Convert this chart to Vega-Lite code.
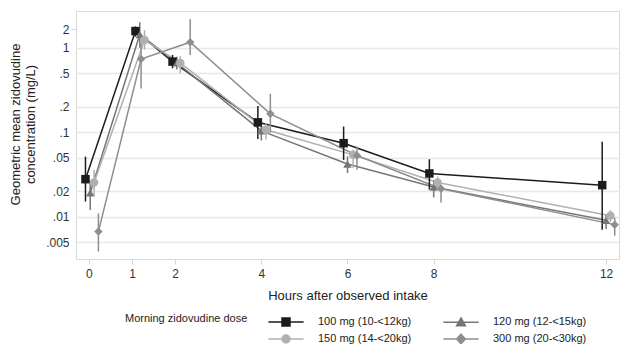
{
  "$schema": "https://vega.github.io/schema/vega-lite/v6.json",
  "width": 543,
  "height": 248,
  "autosize": {"type": "none"},
  "padding": {"left": 76, "top": 11, "right": 3, "bottom": 85},
  "background": "white",
  "config": {
    "font": "Liberation Sans",
    "view": {"stroke": "#d9d9d9", "strokeWidth": 1}
  },
  "data": {
    "values": [
      {"dose": "100 mg (10-<12kg)", "h": -0.08, "gm": 0.0279, "lo": 0.0152, "hi": 0.0516},
      {"dose": "100 mg (10-<12kg)", "h": 1.08, "gm": 1.57, "lo": 1.35, "hi": 1.78},
      {"dose": "100 mg (10-<12kg)", "h": 1.94, "gm": 0.684, "lo": 0.57, "hi": 0.82},
      {"dose": "100 mg (10-<12kg)", "h": 3.92, "gm": 0.131, "lo": 0.083, "hi": 0.205},
      {"dose": "100 mg (10-<12kg)", "h": 5.91, "gm": 0.0743, "lo": 0.0471, "hi": 0.117},
      {"dose": "100 mg (10-<12kg)", "h": 7.9, "gm": 0.0326, "lo": 0.021, "hi": 0.048},
      {"dose": "100 mg (10-<12kg)", "h": 11.91, "gm": 0.0237, "lo": 0.00705, "hi": 0.0775},
      {"dose": "120 mg (12-<15kg)", "h": 0.03, "gm": 0.0192, "lo": 0.0121, "hi": 0.027},
      {"dose": "120 mg (12-<15kg)", "h": 1.18, "gm": 1.43, "lo": 1.0, "hi": 2.0},
      {"dose": "120 mg (12-<15kg)", "h": 2.04, "gm": 0.66, "lo": 0.55, "hi": 0.78},
      {"dose": "120 mg (12-<15kg)", "h": 4.0, "gm": 0.104, "lo": 0.08, "hi": 0.12},
      {"dose": "120 mg (12-<15kg)", "h": 6.0, "gm": 0.0421, "lo": 0.033, "hi": 0.052},
      {"dose": "120 mg (12-<15kg)", "h": 8.0, "gm": 0.0225, "lo": 0.017, "hi": 0.027},
      {"dose": "120 mg (12-<15kg)", "h": 12.0, "gm": 0.0091, "lo": 0.0072, "hi": 0.0107},
      {"dose": "150 mg (14-<20kg)", "h": 0.12, "gm": 0.0255, "lo": 0.0175, "hi": 0.036},
      {"dose": "150 mg (14-<20kg)", "h": 1.29, "gm": 1.23, "lo": 0.95, "hi": 1.6},
      {"dose": "150 mg (14-<20kg)", "h": 2.12, "gm": 0.66, "lo": 0.5, "hi": 0.8},
      {"dose": "150 mg (14-<20kg)", "h": 4.11, "gm": 0.107, "lo": 0.082, "hi": 0.128},
      {"dose": "150 mg (14-<20kg)", "h": 6.13, "gm": 0.0541, "lo": 0.038, "hi": 0.062},
      {"dose": "150 mg (14-<20kg)", "h": 8.09, "gm": 0.0255, "lo": 0.021, "hi": 0.03},
      {"dose": "150 mg (14-<20kg)", "h": 12.1, "gm": 0.0103, "lo": 0.0087, "hi": 0.012},
      {"dose": "300 mg (20-<30kg)", "h": 0.22, "gm": 0.0067, "lo": 0.0039, "hi": 0.011},
      {"dose": "300 mg (20-<30kg)", "h": 1.21, "gm": 0.735, "lo": 0.33, "hi": 1.15},
      {"dose": "300 mg (20-<30kg)", "h": 2.35, "gm": 1.16, "lo": 0.82, "hi": 2.16},
      {"dose": "300 mg (20-<30kg)", "h": 4.21, "gm": 0.165, "lo": 0.099, "hi": 0.285},
      {"dose": "300 mg (20-<30kg)", "h": 6.22, "gm": 0.0532, "lo": 0.036, "hi": 0.068},
      {"dose": "300 mg (20-<30kg)", "h": 8.17, "gm": 0.0215, "lo": 0.0148, "hi": 0.024},
      {"dose": "300 mg (20-<30kg)", "h": 12.2, "gm": 0.0081, "lo": 0.006, "hi": 0.0098}
    ]
  },
  "encoding": {
    "x": {
      "field": "h",
      "type": "quantitative",
      "scale": {"domain": [-0.3, 12.3], "nice": false, "zero": false},
      "axis": {
        "values": [0, 1, 2, 4, 6, 8, 12],
        "grid": false,
        "domain": false,
        "tickSize": 5,
        "tickColor": "#d6d6d6",
        "labelFontSize": 12,
        "labelColor": "#333333",
        "labelPadding": 4,
        "title": "Hours after observed intake",
        "titleFontSize": 13,
        "titleFontWeight": "normal",
        "titleColor": "#222222",
        "titlePadding": 10
      }
    },
    "color": {
      "field": "dose",
      "type": "nominal",
      "scale": {
        "domain": ["100 mg (10-<12kg)", "120 mg (12-<15kg)", "150 mg (14-<20kg)", "300 mg (20-<30kg)"],
        "range": ["#1c1c1c", "#767676", "#b0b0b0", "#8e8e8e"]
      },
      "legend": {
        "title": "Morning zidovudine dose",
        "orient": "none",
        "legendX": 49,
        "legendY": 302,
        "columns": 2,
        "direction": "horizontal",
        "titleOrient": "left",
        "titleAnchor": "start",
        "titleFontSize": 11,
        "titleFontWeight": "normal",
        "titleColor": "#222222",
        "titlePadding": 29,
        "labelFontSize": 11,
        "labelColor": "#222222",
        "labelOffset": 23,
        "symbolSize": 256,
        "rowPadding": 1,
        "columnPadding": 28,
        "encode": {
          "symbols": {
            "update": {
              "shape": {"signal": "datum.value === '100 mg (10-<12kg)' ? 'M-2.2,0H2.2M-0.5,-0.5H0.5V0.5H-0.5Z' : datum.value === '120 mg (12-<15kg)' ? 'M-2.2,0H2.2M0,-0.55L0.55,0.42H-0.55Z' : datum.value === '150 mg (14-<20kg)' ? 'M-2.2,0H2.2M-0.5,0A0.5,0.5,0,1,0,0.5,0A0.5,0.5,0,1,0,-0.5,0Z' : 'M-2.2,0H2.2M0,-0.6L0.55,0L0,0.6L-0.55,0Z'"},
              "fill": {"scale": "color", "field": "value"},
              "stroke": {"scale": "color", "field": "value"},
              "strokeWidth": {"value": 1.5},
              "opacity": {"value": 1},
              "fillOpacity": {"value": 1},
              "strokeOpacity": {"value": 1}
            }
          }
        }
      }
    }
  },
  "layer": [
    {
      "mark": {"type": "line", "strokeWidth": 1.5},
      "encoding": {
        "y": {
          "field": "gm",
          "type": "quantitative",
          "scale": {"type": "log", "domain": [0.00318, 2.71], "nice": false},
          "axis": {
            "values": [0.005, 0.01, 0.02, 0.05, 0.1, 0.2, 0.5, 1, 1.65],
            "labelExpr": "datum.value > 1.5 ? '2' : datum.value >= 1 ? '1' : replace(toString(datum.value), '0.', '.')",
            "grid": true,
            "gridColor": {"condition": {"test": "datum.value > 1.5", "value": "transparent"}, "value": "#e8e8e8"},
            "gridWidth": 1.5,
            "domain": false,
            "ticks": true,
            "tickSize": 5,
            "tickColor": {"condition": {"test": "datum.value > 1.5", "value": "#d6d6d6"}, "value": "transparent"},
            "labelPadding": 2,
            "labelFontSize": 12,
            "labelColor": "#333333",
            "title": ["Geometric mean zidovudine", "concentration (mg/L)"],
            "titleFontSize": 13,
            "titleFontWeight": "normal",
            "titleColor": "#222222",
            "titlePadding": 8,
            "titleLineHeight": 15,
            "titleY": 113
          }
        }
      }
    },
    {
      "mark": {"type": "rule", "strokeWidth": 1.5},
      "encoding": {
        "y": {"field": "lo", "type": "quantitative"},
        "y2": {"field": "hi"}
      }
    },
    {
      "mark": {"type": "point", "filled": true, "opacity": 1, "size": 72},
      "encoding": {
        "y": {"field": "gm", "type": "quantitative"},
        "shape": {
          "condition": [
            {"test": "datum.dose === '100 mg (10-<12kg)'", "value": "square"},
            {"test": "datum.dose === '120 mg (12-<15kg)'", "value": "triangle-up"},
            {"test": "datum.dose === '150 mg (14-<20kg)'", "value": "circle"}
          ],
          "value": "diamond"
        }
      }
    }
  ]
}
